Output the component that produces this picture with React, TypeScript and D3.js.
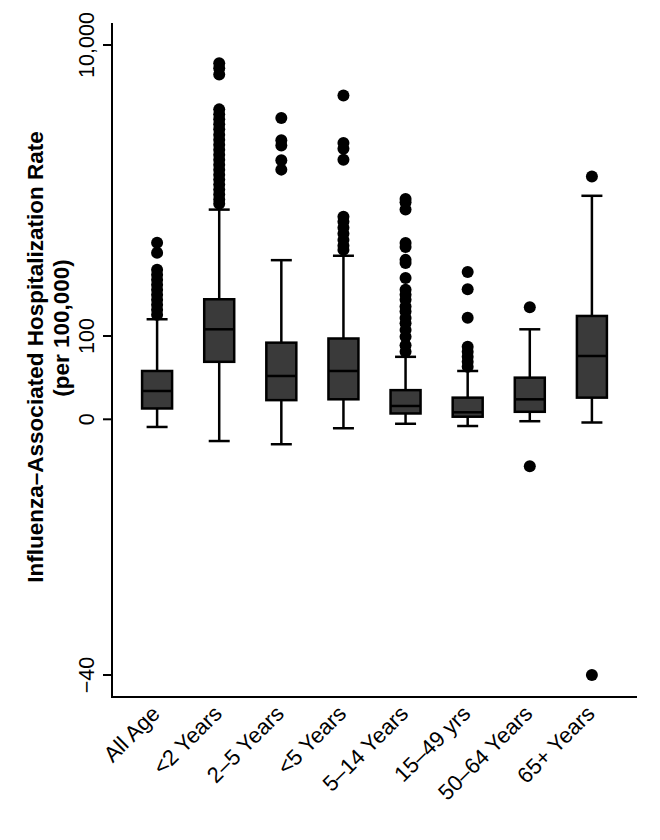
import React from "react";
import * as d3 from "d3";

const categories = ["All Age", "<2 Years", "2–5 Years", "<5 Years", "5–14 Years", "15–49 yrs", "50–64 Years", "65+ Years"];
const whiskerLow = [-1.2, -3.4, -3.9, -1.4, -0.7, -1.05, -0.3, -0.5];
const q1 = [13, 69, 23, 24, 7, 3.1, 9, 26];
const median = [34, 328, 52, 58, 16, 8.4, 24, 76];
const q3 = [58, 1350, 92, 97, 35, 26, 50, 782];
const whiskerHigh = [670, 4400, 2680, 2830, 75, 58, 328, 4870];
const outliers = [
  [3270, 2930, 2350, 2180, 2010, 1840, 1670, 1500, 1330, 1160, 990, 820],
  [9380, 9210, 9000, 7810, 7640, 7470, 7300, 7130, 6950, 6780, 6610, 6440, 6270, 6100, 5930, 5760, 5590, 5420, 5250, 5080, 4910, 4740, 4600],
  [7520, 6760, 6580, 6080, 5760],
  [8280, 6670, 6470, 6100, 4160, 3990, 3780, 3580, 3370, 3170, 3030],
  [4760, 4650, 4400, 3260, 3130, 2690, 2580, 2070, 1670, 1500, 1330, 1100, 930, 710, 530, 305, 99, 89, 81],
  [2280, 1690, 720, 87, 81, 75, 69, 63],
  [1080, -7.35],
  [5530, -40],
];
const yTickValues = [-40, 0, 100, 10000];
const yTickLabels = ["−40", "0", "100", "10,000"];

const W = 660;
const H = 840;
const axisX = 112;
const axisY = 697;
const axisTop = 23;
const axisRight = 637;

export default function App() {
  const x = d3.scalePoint<string>().domain(categories).range([axisX, axisRight]).padding(0.726);
  const y = d3.scaleLinear().domain([-40, 0, 100, 10000]).range([675, 419.3, 336, 45]);
  const boxW = 30;
  const capW = 21;
  const font = "'Liberation Sans', Arial, Helvetica, sans-serif";

  return (
    <svg width={W} height={H} style={{ position: "absolute", left: 0, top: 0, background: "#fff" }} fontFamily={font}>
      <line x1={axisX} x2={axisX} y1={axisTop} y2={axisY} stroke="#000" strokeWidth={2} />
      <line x1={axisX - 1} x2={axisRight} y1={axisY} y2={axisY} stroke="#000" strokeWidth={2} />
      {yTickValues.map((v, i) => (
        <g key={v}>
          <line x1={axisX - 9} x2={axisX} y1={y(v)} y2={y(v)} stroke="#000" strokeWidth={2} />
          <text transform={`translate(94,${y(v)}) rotate(-90)`} textAnchor="middle" fontSize={21.5} fill="#000">
            {yTickLabels[i]}
          </text>
        </g>
      ))}
      <text transform="translate(43,357) rotate(-90)" textAnchor="middle" fontSize={22.5} fontWeight="bold" fill="#000">
        Influenza–Associated Hospitalization Rate
      </text>
      <text transform="translate(69,328) rotate(-90)" textAnchor="middle" fontSize={22.5} fontWeight="bold" fill="#000">
        (per 100,000)
      </text>
      {categories.map((c, i) => {
        const cx = x(c) as number;
        return (
          <g key={c}>
            <line x1={cx} x2={cx} y1={y(whiskerLow[i])} y2={y(q1[i])} stroke="#000" strokeWidth={2.5} />
            <line x1={cx} x2={cx} y1={y(q3[i])} y2={y(whiskerHigh[i])} stroke="#000" strokeWidth={2.5} />
            <line x1={cx - capW / 2} x2={cx + capW / 2} y1={y(whiskerLow[i])} y2={y(whiskerLow[i])} stroke="#000" strokeWidth={2.5} />
            <line x1={cx - capW / 2} x2={cx + capW / 2} y1={y(whiskerHigh[i])} y2={y(whiskerHigh[i])} stroke="#000" strokeWidth={2.5} />
            <rect x={cx - boxW / 2} y={y(q3[i])} width={boxW} height={y(q1[i]) - y(q3[i])} fill="#3a3a3a" stroke="#000" strokeWidth={2.5} />
            <line x1={cx - boxW / 2} x2={cx + boxW / 2} y1={y(median[i])} y2={y(median[i])} stroke="#000" strokeWidth={2.5} />
            {outliers[i].map((v, j) => (
              <circle key={j} cx={cx} cy={y(v)} r={6} fill="#000" />
            ))}
            <text transform={`translate(${cx + 4},715) rotate(-45)`} textAnchor="end" fontSize={22} fill="#000">
              {c}
            </text>
          </g>
        );
      })}
    </svg>
  );
}
